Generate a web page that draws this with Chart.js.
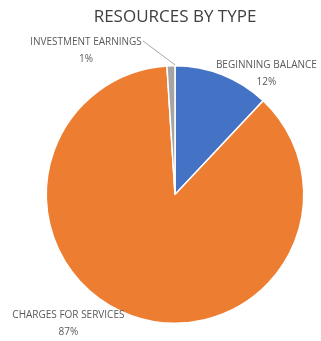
<!DOCTYPE html>
<html>
<head>
<meta charset="utf-8">
<script src="https://cdn.jsdelivr.net/npm/chart.js@4"></script>
<style>
  html, body { margin: 0; padding: 0; background: #fff; }
  #wrap { width: 321px; height: 341px; }
</style>
</head>
<body>
<div id="wrap"><canvas id="pieChart" width="321" height="341"></canvas></div>
<script>
// Resources by type (percent of total)
const categories = ["BEGINNING BALANCE", "CHARGES FOR SERVICES", "INVESTMENT EARNINGS"];
const shares = [12, 87, 1];
const sliceColors = ["#4472C4", "#ED7D31", "#A5A5A5"];

// label placement relative to the point on the rim at the slice's middle angle
const labelOffsets = [
  { dx: 44, dy: -2 },
  { dx: -63, dy: 8 },
  { dx: -85, dy: -16 },
];

const labelFont = "10px 'Open Sans', sans-serif";
const labelColor = "#595959";

const outsideLabels = {
  id: "outsideLabels",
  afterDatasetsDraw(chart) {
    const ctx = chart.ctx;
    const meta = chart.getDatasetMeta(0);
    const total = shares.reduce((a, b) => a + b, 0);
    ctx.save();
    ctx.font = labelFont;
    ctx.fillStyle = labelColor;
    ctx.textAlign = "center";
    ctx.textBaseline = "middle";
    meta.data.forEach((arc, i) => {
      const mid = (arc.startAngle + arc.endAngle) / 2;
      const rx = arc.x + Math.cos(mid) * arc.outerRadius;
      const ry = arc.y + Math.sin(mid) * arc.outerRadius;
      const lx = rx + labelOffsets[i].dx;
      const ly = ry + labelOffsets[i].dy;
      const pct = Math.round((shares[i] / total) * 100) + "%";
      ctx.fillText(categories[i], lx, ly - 8);
      ctx.fillText(pct, lx, ly + 9);
      // leader line for the thin slice
      if (shares[i] / total < 0.03) {
        const w = ctx.measureText(categories[i]).width;
        ctx.strokeStyle = "#A6A6A6";
        ctx.lineWidth = 1;
        ctx.beginPath();
        ctx.moveTo(lx + w / 2 + 1, ly - 9);
        ctx.lineTo(rx + 4, ry - 1);
        ctx.stroke();
      }
    });
    ctx.restore();
  },
};

new Chart(document.getElementById("pieChart").getContext("2d"), {
  type: "pie",
  data: {
    labels: categories,
    datasets: [
      {
        data: shares,
        backgroundColor: sliceColors,
        borderColor: "#ffffff",
        borderWidth: 1.5,
      },
    ],
  },
  options: {
    responsive: false,
    animation: false,
    layout: { padding: { left: 45.5, right: 16.5, top: 0, bottom: 17 } },
    plugins: {
      legend: { display: false },
      tooltip: { enabled: false },
      title: {
        display: true,
        text: "RESOURCES BY TYPE",
        color: "#404040",
        font: { family: "'Open Sans', sans-serif", size: 17, weight: "normal" },
        padding: { top: 7, bottom: 37.6 },
      },
    },
  },
  plugins: [outsideLabels],
});
</script>
</body>
</html>
